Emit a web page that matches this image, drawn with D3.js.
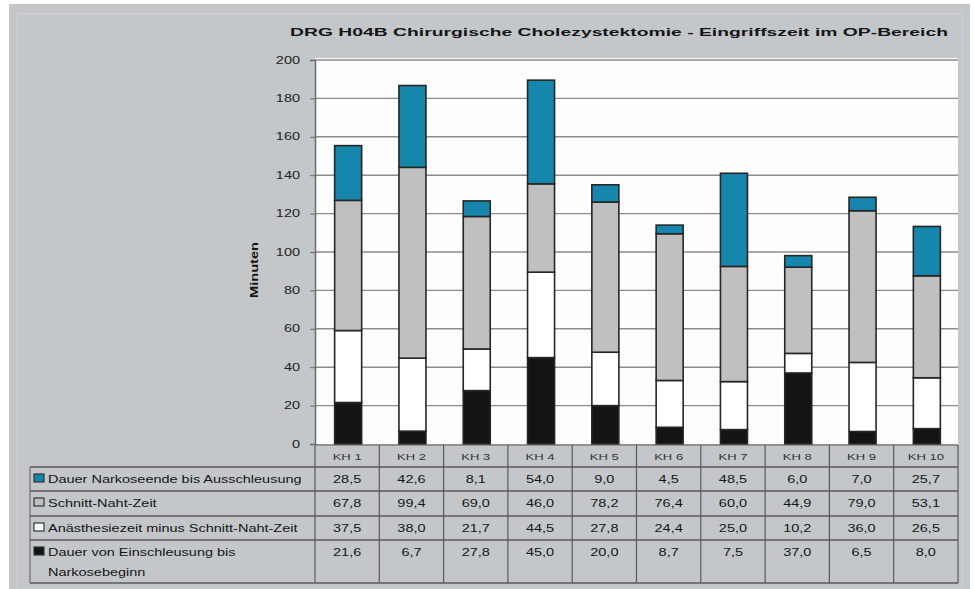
<!DOCTYPE html>
<html>
<head>
<meta charset="utf-8">
<script src="https://cdn.jsdelivr.net/npm/d3@7"></script>
<style>
  html, body { margin: 0; padding: 0; background: #ffffff; }
  svg { display: block; font-family: "Liberation Sans", Arial, sans-serif; }
</style>
</head>
<body>
<svg id="chart" width="974" height="589"></svg>
<script>
// Hospitals
const categories = ["KH 1", "KH 2", "KH 3", "KH 4", "KH 5", "KH 6", "KH 7", "KH 8", "KH 9", "KH 10"];

// Minutes per phase (bottom to top of each stack)
const einschleusungBisNarkose = [21.6, 6.7, 27.8, 45.0, 20.0, 8.7, 7.5, 37.0, 6.5, 8.0];
const anaesthesieMinusSchnittNaht = [37.5, 38.0, 21.7, 44.5, 27.8, 24.4, 25.0, 10.2, 36.0, 26.5];
const schnittNahtZeit = [67.8, 99.4, 69.0, 46.0, 78.2, 76.4, 60.0, 44.9, 79.0, 53.1];
const narkoseendeBisAusschleusung = [28.5, 42.6, 8.1, 54.0, 9.0, 4.5, 48.5, 6.0, 7.0, 25.7];

const yTicks = [0, 20, 40, 60, 80, 100, 120, 140, 160, 180, 200];

const seriesDefs = [
  { key: "ein", values: einschleusungBisNarkose, color: "#141414",
    label: ["Dauer von Einschleusung bis", "Narkosebeginn"] },
  { key: "ana", values: anaesthesieMinusSchnittNaht, color: "#ffffff",
    label: ["Anästhesiezeit minus Schnitt-Naht-Zeit"] },
  { key: "snz", values: schnittNahtZeit, color: "#c0c0c0",
    label: ["Schnitt-Naht-Zeit"] },
  { key: "aus", values: narkoseendeBisAusschleusung, color: "#1786ad",
    label: ["Dauer Narkoseende bis Ausschleusung"] }
];

const title = "DRG H04B Chirurgische Cholezystektomie - Eingriffszeit im OP-Bereich";
const yLabel = "Minuten";

// ---- layout ----
const plot = { left: 315, right: 958, top: 58, bottom: 444 };
const table = { left: 30, catTop: 445, rowTops: [467, 491, 516, 540], bottom: 583 };
const SX = 1.45; // horizontal text stretch

const svg = d3.select("#chart");

// panel background
svg.append("rect").attr("x", 9).attr("y", 4).attr("width", 961).attr("height", 585)
  .attr("fill", "#c4c7ca");
svg.append("rect").attr("x", 17).attr("y", 14).attr("width", 945).attr("height", 575)
  .attr("fill", "none").attr("stroke", "#cfd1d3").attr("stroke-width", 1);

function stext(parent, x, y, str, opts = {}) {
  const t = parent.append("text")
    .attr("transform", `translate(${x},${y}) scale(${SX},1)`)
    .attr("text-anchor", opts.anchor || "start")
    .attr("font-size", opts.size || 10)
    .attr("font-weight", opts.weight || "normal")
    .attr("fill", opts.fill || "#151515")
    .text(str);
  if (opts.length) t.attr("textLength", opts.length).attr("lengthAdjust", "spacingAndGlyphs");
  return t;
}

// title
stext(svg, 948, 36, title, { anchor: "end", size: 11.5, weight: "bold", length: 658 / SX });

// scales
const x = d3.scaleBand().domain(categories).range([plot.left, plot.right]).paddingInner(0).paddingOuter(0);
const y = d3.scaleLinear().domain([0, 200]).range([plot.bottom, 60]);
const barW = x.bandwidth() * 0.42;

// plot area
svg.append("rect").attr("x", plot.left).attr("y", plot.top)
  .attr("width", plot.right - plot.left).attr("height", plot.bottom - plot.top)
  .attr("fill", "#fdfdfd");

// gridlines
svg.append("g").selectAll("line").data(yTicks.filter(d => d > 0)).join("line")
  .attr("x1", plot.left).attr("x2", plot.right)
  .attr("y1", d => y(d)).attr("y2", d => y(d))
  .attr("stroke", "#8c8c8c").attr("stroke-width", 1.4);

// y axis
const yAxis = d3.axisLeft(y).tickValues(yTicks).tickSize(5).tickPadding(9).tickFormat(d3.format("d"));
const yg = svg.append("g").attr("transform", `translate(${plot.left},0)`).call(yAxis);
yg.select(".domain").attr("stroke", "#6a6a6a").attr("stroke-width", 1.5);
yg.selectAll(".tick line").attr("stroke", "#6a6a6a");
yg.selectAll(".tick text").remove();
yTicks.forEach(v => stext(svg, 300, y(v) + 3.5, String(v), { anchor: "end", size: 10, fill: "#222" }));

// y axis title
svg.append("text")
  .attr("transform", `translate(258,${(y(0) + y(200)) / 2 + 18}) rotate(-90)`)
  .attr("text-anchor", "middle")
  .attr("font-size", 11.5).attr("font-weight", "bold").attr("fill", "#151515")
  .attr("textLength", 56).attr("lengthAdjust", "spacingAndGlyphs")
  .text(yLabel);

// stacked bars
const rows = categories.map((c, i) => {
  const r = { cat: c };
  seriesDefs.forEach(s => r[s.key] = s.values[i]);
  return r;
});
const stack = d3.stack().keys(seriesDefs.map(s => s.key));
const layers = stack(rows);

svg.append("g").selectAll("g").data(layers).join("g")
  .attr("fill", (d, i) => seriesDefs[i].color)
  .selectAll("rect").data(d => d).join("rect")
  .attr("x", d => x(d.data.cat) + (x.bandwidth() - barW) / 2 + 1)
  .attr("y", d => y(d[1]))
  .attr("width", barW)
  .attr("height", d => y(d[0]) - y(d[1]))
  .attr("stroke", "#262626").attr("stroke-width", 1.6);

// data table
const tg = svg.append("g");
const lineCol = "#5a5a5a";
// category row
tg.append("line").attr("x1", plot.left).attr("x2", plot.right).attr("y1", table.catTop).attr("y2", table.catTop)
  .attr("stroke", lineCol);
// row lines
table.rowTops.concat([table.bottom]).forEach(yy => {
  tg.append("line").attr("x1", table.left).attr("x2", plot.right).attr("y1", yy).attr("y2", yy)
    .attr("stroke", lineCol).attr("stroke-width", 1.3);
});
// verticals
tg.append("line").attr("x1", table.left).attr("x2", table.left)
  .attr("y1", table.rowTops[0]).attr("y2", table.bottom).attr("stroke", lineCol);
categories.forEach(c => {
  const xx = x(c);
  tg.append("line").attr("x1", xx).attr("x2", xx)
    .attr("y1", table.catTop).attr("y2", table.bottom).attr("stroke", lineCol).attr("stroke-width", 1.2);
});
tg.append("line").attr("x1", plot.right).attr("x2", plot.right)
  .attr("y1", table.catTop).attr("y2", table.bottom).attr("stroke", lineCol).attr("stroke-width", 1.2);

// category labels
categories.forEach(c => {
  stext(tg, x(c) + x.bandwidth() / 2, 459.5, c, { anchor: "middle", size: 9, fill: "#333" });
});

// table rows: top to bottom is the reverse stacking order
const fmt = v => d3.format(".1f")(v).replace(".", ",");
const tableSeries = seriesDefs.slice().reverse();
tableSeries.forEach((s, r) => {
  const top = table.rowTops[r];
  const baseY = top + 16;
  // legend key
  tg.append("rect").attr("x", 34).attr("y", top + 7).attr("width", 10).attr("height", 8)
    .attr("fill", s.color).attr("stroke", "#333").attr("stroke-width", 1.2);
  s.label.forEach((ln, k) => {
    stext(tg, 48, baseY + k * 20, ln, { size: 10 });
  });
  s.values.forEach((v, i) => {
    stext(tg, x(categories[i]) + x.bandwidth() / 2, baseY, fmt(v), { anchor: "middle", size: 10 });
  });
});
</script>
</body>
</html>
